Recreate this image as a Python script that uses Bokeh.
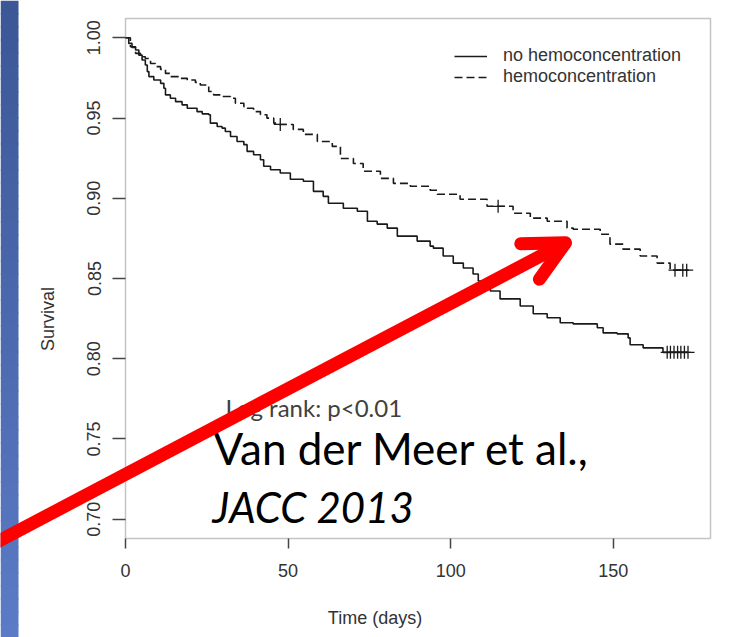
import numpy as np
from bokeh.plotting import figure
from bokeh.models import (Range1d, FixedTicker, Legend, LegendItem, Label, Arrow,
                          OpenHead, BoxAnnotation)
from bokeh.embed import file_html
from bokeh.resources import INLINE

# ---------------- data ----------------
no_hemo_time = [0, 1.0, 2.0, 3.1, 4.1, 5.1, 6.1, 6.7, 7.2, 8.7,
                10.8, 11.8, 12.3, 13.8, 15.4, 17.4, 19.0, 22.0, 23.6, 25.6,
                26.1, 28.2, 29.7, 30.7, 32.3, 34.3, 36.4, 37.4, 39.4, 41.5,
                42.5, 44.6, 47.6, 50.7, 54.7, 57.8, 60.8, 62.4, 67.0, 71.3,
                74.4, 77.4, 80.5, 83.6, 89.7, 93.7, 94.7, 97.7, 100.8, 103.9,
                106.9, 108.5, 112.2, 115.2, 121.4, 125.4, 129.7, 133.7, 137.7, 145.1,
                146.9, 151.2, 154.6, 155.2, 159.2, 165.3]
no_hemo_surv = [1.000, 0.9965, 0.9940, 0.9924, 0.9892, 0.9861, 0.9830, 0.9789, 0.9758, 0.9737,
                0.9716, 0.9685, 0.9644, 0.9623, 0.9602, 0.9582, 0.9561, 0.9540, 0.9526, 0.9520,
                0.9468, 0.9447, 0.9437, 0.9416, 0.9385, 0.9354, 0.9334, 0.9292, 0.9271, 0.9240,
                0.9199, 0.9178, 0.9157, 0.9118, 0.9106, 0.9043, 0.9012, 0.8969, 0.8938, 0.8919,
                0.8857, 0.8839, 0.8814, 0.8764, 0.8733, 0.8702, 0.8689, 0.8640, 0.8596, 0.8565,
                0.8528, 0.8484, 0.8422, 0.8373, 0.8329, 0.8280, 0.8255, 0.8224, 0.8217, 0.8193,
                0.8161, 0.8155, 0.8130, 0.8087, 0.8068, 0.8040]
no_hemo_censor = [166.6, 167.6, 168.7, 169.8, 170.8, 171.9, 173.0]

hemo_time = [0, 1.5, 3.1, 4.6, 6.1, 7.7, 9.2, 10.8, 12.3, 13.8,
             16.4, 19.0, 21.5, 23.0, 25.6, 27.1, 29.2, 32.3, 33.8, 36.4,
             37.4, 39.4, 41.5, 43.5, 45.6, 47.0, 51.6, 54.7, 59.0, 63.6,
             66.1, 70.1, 73.1, 78.4, 82.4, 87.6, 93.7, 95.9, 102.9, 111.2,
             119.2, 124.5, 129.7, 135.8, 137.7, 146.0, 149.0, 153.0, 158.3, 163.5,
             167.5]
hemo_surv = [1.000, 0.9944, 0.9903, 0.9882, 0.9871, 0.9840, 0.9820, 0.9803, 0.9778, 0.9758,
             0.9747, 0.9737, 0.9722, 0.9706, 0.9665, 0.9644, 0.9634, 0.9623, 0.9592, 0.9571,
             0.9561, 0.9540, 0.9520, 0.9499, 0.9468, 0.9460, 0.9429, 0.9398, 0.9354, 0.9323,
             0.9248, 0.9217, 0.9168, 0.9124, 0.9093, 0.9075, 0.9050, 0.9025, 0.8994, 0.8950,
             0.8907, 0.8876, 0.8857, 0.8814, 0.8807, 0.8776, 0.8714, 0.8683, 0.8640, 0.8596,
             0.8552]
hemo_censor = [47.6, 114.6, 169.0, 171.4, 172.6]

last_time = 173.0
x_ticks = [0, 50, 100, 150]
y_ticks = [0.70, 0.75, 0.80, 0.85, 0.90, 0.95, 1.00]
y_tick_labels = ["0.70", "0.75", "0.80", "0.85", "0.90", "0.95", "1.00"]
series_labels = ["no hemoconcentration", "hemoconcentration"]
y_lim = (0.688, 1.012)

# arrow (data coordinates) and annotation texts
arrow_start = (-47.67, 0.6772)
arrow_end = (135.32, 0.8722)
note_logrank = "Log rank: p<0.01"
note_ref1 = "Van der Meer et al.,"
note_ref2 = "JACC 2013"

# ---------------- layout (pixels) ----------------
W, H = 749, 637
BOX_L, BOX_R, BOX_T, BOX_B = 125, 710, 18, 538   # R plot box position on the slide
x_lim = (0, last_time * 1.04)

# the frame covers the whole canvas; the axes are pinned to the R plot box
sx = (BOX_R - BOX_L) / (x_lim[1] - x_lim[0])
sy = (BOX_B - BOX_T) / (y_lim[1] - y_lim[0])
xr = Range1d(x_lim[0] - BOX_L / sx, x_lim[1] + (W - BOX_R) / sx)
yr = Range1d(y_lim[0] - (H - BOX_B) / sy, y_lim[1] + BOX_T / sy)

p = figure(width=W, height=H, output_backend="svg", toolbar_location=None,
           x_range=xr, y_range=yr,
           min_border=0, min_border_left=0, min_border_right=0,
           min_border_top=0, min_border_bottom=0)
p.title.visible = False
p.background_fill_color = "white"
p.border_fill_color = "white"
p.outline_line_color = None
p.xgrid.visible = False
p.ygrid.visible = False

AX_FONT = "Liberation Sans"
TXT = "#333333"
AX_COL = "#3a3a3a"

xa = p.xaxis[0]
xa.fixed_location = y_lim[0]
xa.ticker = FixedTicker(ticks=x_ticks)
xa.axis_line_color = None
xa.major_tick_in = 0
xa.major_tick_out = 10
xa.major_tick_line_color = "#444444"
xa.major_tick_line_width = 1.5
xa.minor_tick_line_color = None
xa.major_label_standoff = 15
xa.major_label_text_font = AX_FONT
xa.major_label_text_font_size = "18px"
xa.major_label_text_color = TXT
xa.axis_label = "Time (days)"
xa.axis_label_text_font = AX_FONT
xa.axis_label_text_font_size = "18px"
xa.axis_label_text_font_style = "normal"
xa.axis_label_text_color = TXT
xa.axis_label_standoff = 28

ya = p.yaxis[0]
ya.fixed_location = x_lim[0]
ya.ticker = FixedTicker(ticks=y_ticks)
ya.major_label_overrides = {t: l for t, l in zip(y_ticks, y_tick_labels)}
ya.axis_line_color = None
ya.major_tick_in = 0
ya.major_tick_out = 13
ya.major_tick_line_color = "#444444"
ya.major_tick_line_width = 1.5
ya.minor_tick_line_color = None
ya.major_label_orientation = "vertical"
ya.major_label_standoff = 12
ya.major_label_text_font = AX_FONT
ya.major_label_text_font_size = "18px"
ya.major_label_text_color = TXT
ya.axis_label = "Survival"
ya.axis_label_text_font = AX_FONT
ya.axis_label_text_font_size = "18px"
ya.axis_label_text_font_style = "normal"
ya.axis_label_text_color = TXT
ya.axis_label_standoff = 27

# ---------------- left blue strip (slide decoration, canvas y grows downward) ----------------
top_rgb = np.array([0x3b, 0x57, 0x96])
bot_rgb = np.array([0x5b, 0x7b, 0xc6])
STRIP_W = 18
n_bands = 49
band_h = 13                      # 49 * 13 = 637, integer edges
for i in range(n_bands):
    c = top_rgb + (bot_rgb - top_rgb) * (i / (n_bands - 1))
    col = "#%02x%02x%02x" % tuple(int(round(v)) for v in c)
    p.add_layout(BoxAnnotation(left=0, right=STRIP_W,
                               top=i * band_h, bottom=min((i + 1) * band_h + 1, H),
                               left_units="canvas", right_units="canvas",
                               top_units="canvas", bottom_units="canvas",
                               fill_color=col, fill_alpha=1.0, line_color=None,
                               level="underlay"))

# R plot box
p.add_layout(BoxAnnotation(left=x_lim[0], right=x_lim[1], bottom=y_lim[0], top=y_lim[1],
                           fill_alpha=0, line_color=AX_COL, line_width=1.5,
                           level="underlay"))

# ---------------- curves ----------------
LINE_COL = "#1a1a1a"
x1 = no_hemo_time + [last_time]
y1 = no_hemo_surv + [no_hemo_surv[-1]]
x2 = hemo_time + [last_time]
y2 = hemo_surv + [hemo_surv[-1]]
r1 = p.step(x1, y1, mode="after", line_color=LINE_COL, line_width=1.6)
r2 = p.step(x2, y2, mode="after", line_color=LINE_COL, line_width=1.6, line_dash="8 4")


def surv_at(times, survs, t):
    idx = np.searchsorted(np.array(times), t, side="right") - 1
    return [survs[i] for i in idx]


p.scatter(no_hemo_censor, surv_at(no_hemo_time, no_hemo_surv, no_hemo_censor),
          marker="cross", size=13, line_color=LINE_COL, line_width=1.3)
p.scatter(hemo_censor, surv_at(hemo_time, hemo_surv, hemo_censor),
          marker="cross", size=13, line_color=LINE_COL, line_width=1.3)

legend = Legend(items=[LegendItem(label=series_labels[0], renderers=[r1]),
                       LegendItem(label=series_labels[1], renderers=[r2])],
                location=(454, 550), orientation="vertical",
                glyph_width=33, glyph_height=18, label_height=18, label_standoff=16,
                spacing=0, padding=0, margin=0,
                border_line_alpha=0, background_fill_alpha=0,
                label_text_font=AX_FONT, label_text_font_size="18px",
                label_text_color=TXT)
p.add_layout(legend)

# ---------------- slide texts ----------------
p.add_layout(Label(x=30.75, y=0.7696, text=note_logrank, text_font="Lato",
                   text_font_size="24px", text_color="#404040",
                   text_baseline="alphabetic", text_align="left"))
p.add_layout(Label(x=27.06, y=0.7441, text=note_ref1, text_font="Lato",
                   text_font_size="44px", text_color="black",
                   text_baseline="alphabetic", text_align="left"))
p.add_layout(Label(x=26.76, y=0.7079, text=note_ref2, text_font="Lato",
                   text_font_size="42px", text_font_style="italic", text_color="black",
                   text_baseline="alphabetic", text_align="left"))

# ---------------- red arrow ----------------
p.add_layout(Arrow(end=OpenHead(size=40, line_color="red", line_width=13,
                                line_cap="round", line_join="round"),
                   x_start=arrow_start[0], y_start=arrow_start[1],
                   x_end=arrow_end[0], y_end=arrow_end[1],
                   line_color="red", line_width=13, line_cap="butt"))

open("out.html", "w").write(file_html(p, INLINE))
